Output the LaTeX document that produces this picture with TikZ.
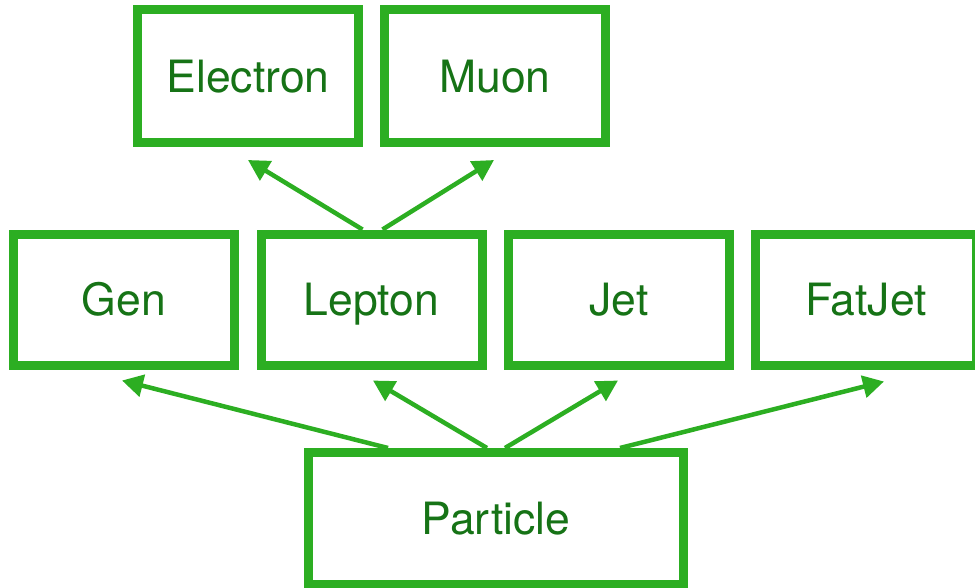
\documentclass[tikz,border=0pt]{standalone}
\usepackage{fontspec}
\setmainfont{TeX Gyre Heros}
\usetikzlibrary{arrows.meta}
\definecolor{boxgreen}{HTML}{2CAE22}
\definecolor{textgreen}{HTML}{167316}
\tikzset{
  classbox/.style={draw=boxgreen, line width=9pt, fill=white, inner sep=0pt,
    minimum width=221pt, minimum height=131pt,
    text=textgreen, font=\fontsize{44.5}{50}\selectfont,
    text height=32pt, text depth=0pt},
  inherit/.style={draw=boxgreen, line width=4.5pt,
    -{Triangle[length=21pt, width=22pt]}}
}
\begin{document}
\begin{tikzpicture}[x=1pt, y=-1pt]
  \useasboundingbox (0,0) rectangle (975,587);
  % top row
  \node[classbox, minimum height=133pt] (electron) at (248,76) {Electron};
  \node[classbox, minimum height=133pt] (muon) at (495,76) {Muon};
  % middle row
  \node[classbox] (gen) at (124,299.5) {Gen};
  \node[classbox] (lepton) at (371.5,299.5) {Lepton};
  \node[classbox] (jet) at (619,299.5) {Jet};
  \node[classbox] (fatjet) at (866,299.5) {FatJet};
  % base
  \node[classbox, minimum width=375pt, minimum height=132pt] (particle) at (496,518.5) {Particle};
  % inheritance arrows
  \draw[inherit] ([xshift=-9pt]lepton.north) -- ([yshift=-13pt]electron.south);
  \draw[inherit] ([xshift=11pt]lepton.north) -- ([xshift=-1pt,yshift=-13pt]muon.south);
  \draw[inherit] ([xshift=-108pt]particle.north) -- ([xshift=-2pt,yshift=-11pt]gen.south);
  \draw[inherit] ([xshift=-9pt]particle.north) -- ([xshift=1.5pt,yshift=-11pt]lepton.south);
  \draw[inherit] ([xshift=9pt]particle.north) -- ([xshift=-1pt,yshift=-11pt]jet.south);
  \draw[inherit] ([xshift=124pt]particle.north) -- ([xshift=18pt,yshift=-12pt]fatjet.south);
\end{tikzpicture}
\end{document}
